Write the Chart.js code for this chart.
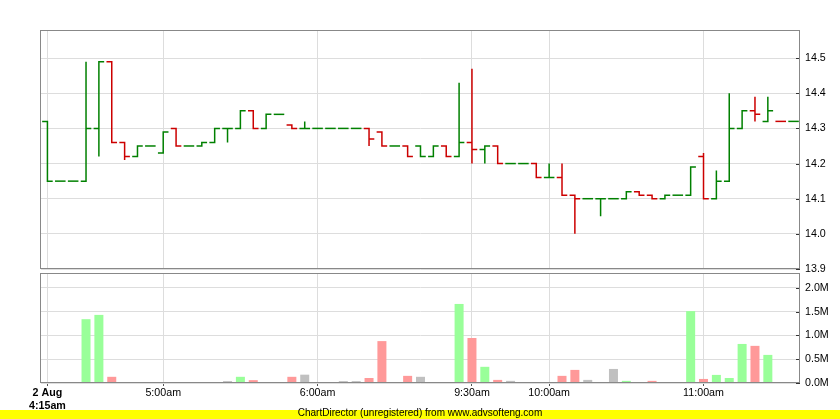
<!DOCTYPE html>
<html>
<head>
<meta charset="utf-8">
<script src="https://cdn.jsdelivr.net/npm/chart.js@4.4.1/dist/chart.umd.min.js"></script>
<style>
  html, body { margin: 0; padding: 0; background: #fff; }
  #wrap { position: relative; width: 840px; height: 419px; overflow: hidden; }
  #priceChart, #volChart { position: absolute; left: 0; top: 0; }
  #footerBar { position: absolute; left: 0; top: 410px; width: 840px; height: 9px; background: #ffff00; }
  #footerText { position: absolute; left: 0; top: 407px; width: 840px; height: 12px; line-height: 12px;
    text-align: center; font: 10px "Liberation Sans", Arial, sans-serif; color: #000; }
</style>
</head>
<body>
<div id="wrap">
  <canvas id="priceChart" width="840" height="290"></canvas>
  <canvas id="volChart" width="840" height="419"></canvas>
  <div id="footerBar"></div>
  <div id="footerText">ChartDirector (unregistered) from www.advsofteng.com</div>
</div>
<script>
// 5-minute bars, 2 Aug, starting 4:15am
const openPrices  = [14.32, 14.15, 14.15, 14.15, 14.30, 14.49, 14.26, 14.22, 14.25, 14.23,
                     14.30, 14.25, 14.25, 14.26, 14.30, 14.30, 14.35, 14.30, 14.34, 14.31,
                     14.30, 14.30, 14.30, 14.30, 14.30, 14.30, 14.29, 14.25, 14.25, 14.25,
                     14.22, 14.25, 14.22, 14.26, 14.24, 14.25, 14.20, 14.20, 14.20, 14.16,
                     14.16, 14.11, 14.10, 14.10, 14.10, 14.10, 14.12, 14.11, 14.10, 14.11,
                     14.11, 14.22, 14.10, 14.15, 14.30, 14.35, 14.32, 14.32, 14.32];
const highPrices  = [14.32, 14.15, 14.15, 14.49, 14.49, 14.49, 14.26, 14.25, 14.25, 14.29,
                     14.30, 14.25, 14.26, 14.30, 14.30, 14.35, 14.35, 14.34, 14.34, 14.31,
                     14.32, 14.30, 14.30, 14.30, 14.30, 14.30, 14.29, 14.25, 14.25, 14.25,
                     14.25, 14.25, 14.43, 14.47, 14.25, 14.25, 14.20, 14.20, 14.20, 14.20,
                     14.20, 14.11, 14.10, 14.10, 14.10, 14.12, 14.12, 14.11, 14.11, 14.11,
                     14.19, 14.23, 14.18, 14.40, 14.35, 14.39, 14.39, 14.32, 14.32];
const lowPrices   = [14.15, 14.15, 14.15, 14.15, 14.22, 14.26, 14.21, 14.22, 14.25, 14.23,
                     14.25, 14.25, 14.25, 14.26, 14.26, 14.30, 14.30, 14.30, 14.34, 14.30,
                     14.30, 14.30, 14.30, 14.30, 14.30, 14.25, 14.25, 14.25, 14.22, 14.22,
                     14.22, 14.22, 14.22, 14.20, 14.20, 14.20, 14.20, 14.20, 14.16, 14.16,
                     14.11, 14.00, 14.10, 14.05, 14.10, 14.10, 14.11, 14.10, 14.10, 14.11,
                     14.11, 14.10, 14.10, 14.15, 14.30, 14.32, 14.32, 14.32, 14.32];
const closePrices = [14.15, 14.15, 14.15, 14.30, 14.49, 14.26, 14.22, 14.25, 14.25, 14.29,
                     14.25, 14.25, 14.26, 14.30, 14.30, 14.35, 14.30, 14.34, 14.34, 14.30,
                     14.30, 14.30, 14.30, 14.30, 14.30, 14.27, 14.25, 14.25, 14.22, 14.22,
                     14.25, 14.22, 14.26, 14.24, 14.25, 14.20, 14.20, 14.20, 14.16, 14.16,
                     14.11, 14.10, 14.10, 14.10, 14.10, 14.12, 14.11, 14.10, 14.11, 14.11,
                     14.19, 14.10, 14.15, 14.30, 14.35, 14.34, 14.35, 14.32, 14.32];
// volume in millions
const volumes     = [0, 0, 0, 1.34, 1.43, 0.13, 0.02, 0, 0, 0,
                     0, 0, 0, 0, 0.04, 0.13, 0.06, 0.02, 0, 0.13,
                     0.175, 0.02, 0.02, 0.04, 0.04, 0.105, 0.88, 0.02, 0.15, 0.13,
                     0, 0, 1.66, 0.945, 0.34, 0.065, 0.045, 0.02, 0, 0.02,
                     0.15, 0.275, 0.065, 0.02, 0.295, 0.045, 0.02, 0.045, 0.02, 0,
                     1.51, 0.085, 0.17, 0.105, 0.82, 0.78, 0.59, 0, 0.02];

const tickIndex  = [0, 9, 21, 33, 39, 51];
const tickLabels = [["2 Aug", "4:15am"], "5:00am", "6:00am", "9:30am", "10:00am", "11:00am"];

const FONT = '"Liberation Sans", Arial, sans-serif';
const UP = "#008000", DOWN = "#cc0000";
const VOL_UP = "#99ff99", VOL_DOWN = "#ff9999", VOL_FLAT = "#c0c0c0";
const HALF = 0.41;

const n = closePrices.length;
const barColor = [];
const volColor = [];
const ohlcPoints = [];
for (let i = 0; i < n; i++) {
    const prev = i === 0 ? closePrices[0] : closePrices[i - 1];
    barColor.push(closePrices[i] >= prev ? UP : DOWN);
    volColor.push(closePrices[i] > prev ? VOL_UP : (closePrices[i] < prev ? VOL_DOWN : VOL_FLAT));
    ohlcPoints.push(
        { x: i - HALF, y: openPrices[i] },
        { x: i, y: openPrices[i] },
        { x: i, y: highPrices[i] },
        { x: i, y: lowPrices[i] },
        { x: i, y: closePrices[i] },
        { x: i + HALF, y: closePrices[i] },
        { x: i + HALF, y: null }
    );
}

// plot frame + small inner tick marks on the right axis
const frame = {
    id: "frame",
    afterDraw(chart) {
        const { ctx, chartArea: a } = chart;
        const y = chart.scales.y;
        ctx.save();
        ctx.strokeStyle = "#333";
        ctx.lineWidth = 1;
        y.ticks.forEach(t => {
            const py = Math.round(y.getPixelForValue(t.value)) + 0.5;
            ctx.beginPath();
            ctx.moveTo(a.right - 4, py);
            ctx.lineTo(a.right, py);
            ctx.stroke();
        });
        ctx.strokeStyle = "#888";
        ctx.strokeRect(Math.round(a.left) - 0.5, Math.round(a.top) + 0.5,
                       Math.round(a.right - a.left), Math.round(a.bottom - a.top) - 1);
        ctx.restore();
    }
};

function fixWidth(ax) { ax.width = 40; ax.paddingTop = 0; ax.paddingBottom = 0; }

new Chart(document.getElementById("priceChart"), {
    type: "line",
    data: {
        datasets: [{
            data: ohlcPoints,
            borderWidth: 1.5,
            pointRadius: 0,
            tension: 0,
            spanGaps: false,
            borderCapStyle: "butt",
            borderJoinStyle: "miter",
            borderColor: UP,
            segment: { borderColor: c => barColor[Math.floor(c.p0DataIndex / 7)] }
        }]
    },
    options: {
        responsive: false,
        animation: false,
        layout: { padding: { left: 41, top: 30, right: 0, bottom: 21 } },
        plugins: { legend: { display: false }, tooltip: { enabled: false } },
        scales: {
            x: {
                type: "linear", min: -0.5, max: 58.5,
                afterBuildTicks: ax => { ax.ticks = tickIndex.map(v => ({ value: v })); },
                afterFit: ax => { ax.height = 0; ax.paddingLeft = 0; ax.paddingRight = 0; },
                ticks: { display: false },
                grid: { color: "#dddddd", drawTicks: false },
                border: { display: false }
            },
            y: {
                position: "right", min: 13.9, max: 14.58,
                afterFit: fixWidth,
                ticks: {
                    stepSize: 0.1, includeBounds: false, padding: 5, color: "#000",
                    font: { family: FONT, size: 10.7 },
                    callback: v => v.toFixed(1)
                },
                grid: { color: "#dddddd", drawTicks: false },
                border: { display: false }
            }
        }
    },
    plugins: [frame]
});

new Chart(document.getElementById("volChart"), {
    type: "bar",
    data: {
        datasets: [{
            data: volumes.map((v, i) => ({ x: i, y: v })),
            backgroundColor: volColor,
            borderWidth: 0,
            barPercentage: 0.7,
            categoryPercentage: 1.0
        }]
    },
    options: {
        responsive: false,
        animation: false,
        layout: { padding: { left: 41, top: 273, right: 0, bottom: 0 } },
        plugins: { legend: { display: false }, tooltip: { enabled: false } },
        scales: {
            x: {
                type: "linear", min: -0.5, max: 58.5, offset: false,
                afterBuildTicks: ax => { ax.ticks = tickIndex.map(v => ({ value: v })); },
                afterFit: ax => { ax.height = 36; ax.paddingLeft = 0; ax.paddingRight = 0; },
                ticks: {
                    autoSkip: false, maxRotation: 0, padding: 1, color: "#000",
                    font: c => c.index === 0 ? { family: FONT, size: 10.7, weight: "bold" } : { family: FONT, size: 10.7 },
                    callback: v => tickLabels[tickIndex.indexOf(v)]
                },
                grid: { offset: false, color: "#dddddd", drawTicks: true, tickLength: 3, tickColor: "#555" },
                border: { display: false }
            },
            y: {
                position: "right", min: 0, max: 2.31,
                afterFit: fixWidth,
                ticks: {
                    stepSize: 0.5, includeBounds: false, padding: 5, color: "#000",
                    font: { family: FONT, size: 10.7 },
                    callback: v => v.toFixed(1) + "M"
                },
                grid: { color: "#dddddd", drawTicks: false },
                border: { display: false }
            }
        }
    },
    plugins: [frame]
});
</script>
</body>
</html>
